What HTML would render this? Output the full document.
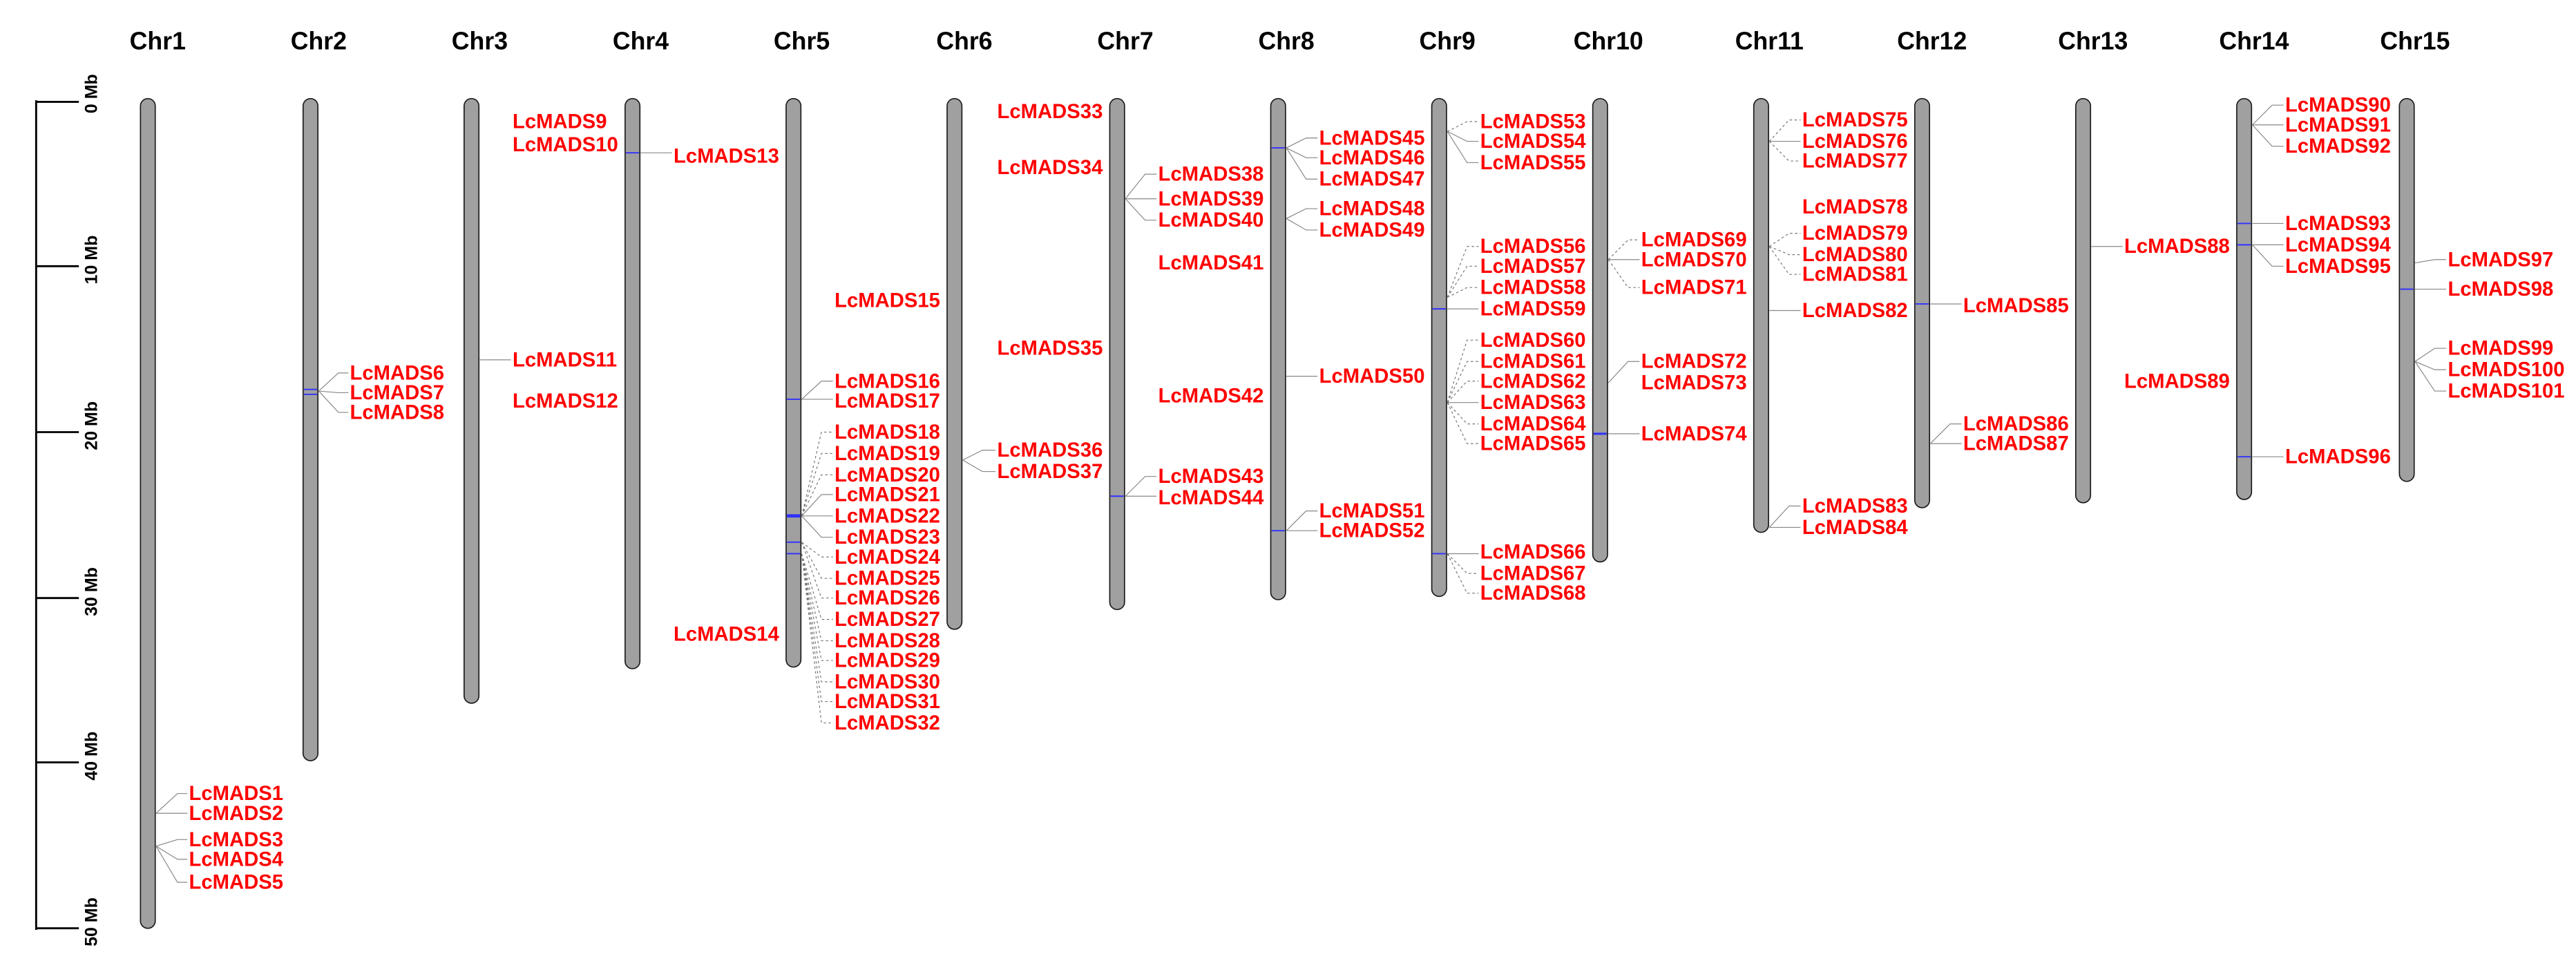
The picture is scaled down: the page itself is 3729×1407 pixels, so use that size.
<!DOCTYPE html>
<html><head><meta charset="utf-8"><style>
html,body{margin:0;padding:0;background:#fff;}
svg{display:block}
.t{font-family:"Liberation Sans",sans-serif;font-weight:bold;font-size:15px;fill:#000}
.l{font-family:"Liberation Sans",sans-serif;font-weight:bold;font-size:12.3px;fill:#ff0000}
.s{font-family:"Liberation Sans",sans-serif;font-weight:bold;font-size:10.5px;fill:#000}
.b{fill:#a0a0a0;stroke:#1a1a1a;stroke-width:0.7}
.c{stroke:#888;stroke-width:0.5;fill:none}
.d{stroke:#777;stroke-width:0.5;fill:none;stroke-dasharray:1.5 1.5}
.m{stroke:#3030ff;stroke-width:0.8}
</style></head><body>
<svg width="3729" height="1407" viewBox="0 0 1568 591.6" preserveAspectRatio="none" xmlns="http://www.w3.org/2000/svg">
<g class="t" text-anchor="middle">
<text x="96" y="30">Chr1</text><text x="194" y="30">Chr2</text><text x="292" y="30">Chr3</text><text x="390" y="30">Chr4</text><text x="488" y="30">Chr5</text><text x="587" y="30">Chr6</text><text x="685" y="30">Chr7</text><text x="783" y="30">Chr8</text><text x="881" y="30">Chr9</text><text x="979" y="30">Chr10</text><text x="1077" y="30">Chr11</text><text x="1176" y="30">Chr12</text><text x="1274" y="30">Chr13</text><text x="1372" y="30">Chr14</text><text x="1470" y="30">Chr15</text>
</g>
<g stroke="#000" stroke-width="1.2">
<line x1="22" y1="61" x2="22" y2="566"/>
<line x1="22" y1="62" x2="48" y2="62"/><line x1="22" y1="162" x2="48" y2="162"/><line x1="22" y1="263" x2="48" y2="263"/><line x1="22" y1="364" x2="48" y2="364"/><line x1="22" y1="464" x2="48" y2="464"/><line x1="22" y1="565" x2="48" y2="565"/>
</g>
<g class="s">
<text transform="translate(59,69) rotate(-90)">0 Mb</text>
<text transform="translate(59,173) rotate(-90)">10 Mb</text>
<text transform="translate(59,274) rotate(-90)">20 Mb</text>
<text transform="translate(59,375) rotate(-90)">30 Mb</text>
<text transform="translate(59,475) rotate(-90)">40 Mb</text>
<text transform="translate(59,576) rotate(-90)">50 Mb</text>
</g>
<g class="b">
<rect x="85.5" y="60" width="9" height="505" rx="4.5"/>
<rect x="184.5" y="60" width="9" height="403" rx="4.5"/>
<rect x="282.5" y="60" width="9" height="368" rx="4.5"/>
<rect x="380.5" y="60" width="9" height="347" rx="4.5"/>
<rect x="478.5" y="60" width="9" height="346" rx="4.5"/>
<rect x="576.5" y="60" width="9" height="323" rx="4.5"/>
<rect x="675.5" y="60" width="9" height="311" rx="4.5"/>
<rect x="773.5" y="60" width="9" height="305" rx="4.5"/>
<rect x="871.5" y="60" width="9" height="303" rx="4.5"/>
<rect x="969.5" y="60" width="9" height="282" rx="4.5"/>
<rect x="1067.5" y="60" width="9" height="264" rx="4.5"/>
<rect x="1165.5" y="60" width="9" height="249" rx="4.5"/>
<rect x="1263.5" y="60" width="9" height="246" rx="4.5"/>
<rect x="1361.5" y="60" width="9" height="244" rx="4.5"/>
<rect x="1460.5" y="60" width="9" height="233" rx="4.5"/>
</g>
<g class="m">
<line x1="185" y1="237" x2="193" y2="237"/><line x1="185" y1="240" x2="193" y2="240"/>
<line x1="381" y1="93" x2="389" y2="93"/>
<line x1="479" y1="243" x2="487" y2="243"/>
<line x1="479" y1="314" x2="487" y2="314" stroke-width="2"/>
<line x1="479" y1="330" x2="487" y2="330"/><line x1="479" y1="337" x2="487" y2="337"/>
<line x1="676" y1="302" x2="684" y2="302"/>
<line x1="774" y1="90" x2="782" y2="90"/><line x1="774" y1="323" x2="782" y2="323"/>
<line x1="872" y1="188" x2="880" y2="188"/><line x1="872" y1="337" x2="880" y2="337"/>
<line x1="970" y1="264" x2="978" y2="264" stroke-width="1.3"/>
<line x1="1166" y1="185" x2="1174" y2="185"/>
<line x1="1362" y1="136" x2="1370" y2="136"/><line x1="1362" y1="149" x2="1370" y2="149"/><line x1="1362" y1="278" x2="1370" y2="278"/>
<line x1="1461" y1="176" x2="1469" y2="176"/>
</g>
<g class="c">
<path d="M95 495 L108 483 H114 M95 495 L108 495 H114 M95 515 L108 511 H114 M95 515 L108 523 H114 M95 515 L108 537 H114"/>
<path d="M194 238 L206 227 H212 M194 238 L206 239 H212 M194 238 L206 251 H212"/>
<path d="M292 219 H311"/>
<path d="M390 93 H409"/>
<path d="M488 243 H507 M488 243 L500 232 H507"/>
<path d="M488 314 L500 301 H507 M488 314 H507 M488 314 L500 327 H507"/>
<path d="M586 280 L598 274 H606 M586 280 L598 287 H606"/>
<path d="M685 121 H704 M685 121 L697 106 H704 M685 121 L697 134 H704"/>
<path d="M685 302 L697 290 H704 M685 302 H704"/>
<path d="M783 90 L795 84 H802 M783 90 L795 96 H802 M783 90 L795 109 H802 M783 133 L795 127 H802 M783 133 L795 140 H802 M783 229 H802 M783 323 L795 311 H802 M783 323 H802"/>
<path d="M881 188 H900 M881 245 H900 M881 337 H900 M881 80 L893 86 H900 M881 80 L893 99 H900"/>
<path d="M979 158 H998 M979 233 L991 220 H998 M979 264 H998"/>
<path d="M1077 86 H1096 M1077 189 H1096 M1077 321 L1089 308 H1096 M1077 321 H1096"/>
<path d="M1175 185 H1194 M1175 270 L1187 258 H1194 M1175 270 H1194"/>
<path d="M1273 150 H1292"/>
<path d="M1371 136 H1390 M1371 149 H1390 M1371 149 L1383 162 H1390 M1371 278 H1390 M1371 76 L1383 64 H1390 M1371 76 H1390 M1371 76 L1383 89 H1390"/>
<path d="M1470 176 H1489 M1470 160 L1482 158 H1489 M1470 220 L1482 212 H1489 M1470 220 L1482 225 H1489 M1470 220 L1482 238 H1489"/>
</g>
<g class="d">
<path d="M488 314 L500 263 H507 M488 314 L500 276 H507 M488 314 L500 289 H507 M488 330 L500 339 H507 M488 330 L500 352 H507 M488 330 L500 364 H507 M488 337 L500 377 H507 M488 337 L500 390 H507 M488 337 L500 402 H507 M488 337 L500 415 H507 M488 337 L500 427 H507 M488 337 L500 440 H507"/>
<path d="M881 80 L893 74 H900 M881 181 L893 150 H900 M881 181 L893 162 H900 M881 181 L893 175 H900 M881 245 L893 207 H900 M881 245 L893 220 H900 M881 245 L893 232 H900 M881 245 L893 258 H900 M881 245 L893 270 H900 M881 337 L893 349 H900 M881 337 L893 361 H900"/>
<path d="M979 158 L991 146 H998 M979 158 L991 175 H998"/>
<path d="M1077 86 L1089 73 H1096 M1077 86 L1089 98 H1096 M1077 150 L1089 142 H1096 M1077 150 L1089 155 H1096 M1077 150 L1089 167 H1096"/>
</g>
<g class="l">
<text x="115" y="487">LcMADS1</text><text x="115" y="499">LcMADS2</text><text x="115" y="515">LcMADS3</text><text x="115" y="527">LcMADS4</text><text x="115" y="541">LcMADS5</text>
<text x="213" y="231">LcMADS6</text><text x="213" y="243">LcMADS7</text><text x="213" y="255">LcMADS8</text>
<text x="312" y="78">LcMADS9</text><text x="312" y="92">LcMADS10</text><text x="312" y="223">LcMADS11</text><text x="312" y="248">LcMADS12</text>
<text x="410" y="99">LcMADS13</text><text x="410" y="390">LcMADS14</text>
<text x="508" y="187">LcMADS15</text><text x="508" y="236">LcMADS16</text><text x="508" y="248">LcMADS17</text>
<text x="508" y="267">LcMADS18</text><text x="508" y="280">LcMADS19</text><text x="508" y="293">LcMADS20</text><text x="508" y="305">LcMADS21</text><text x="508" y="318">LcMADS22</text><text x="508" y="331">LcMADS23</text><text x="508" y="343">LcMADS24</text><text x="508" y="356">LcMADS25</text><text x="508" y="368">LcMADS26</text><text x="508" y="381">LcMADS27</text><text x="508" y="394">LcMADS28</text><text x="508" y="406">LcMADS29</text><text x="508" y="419">LcMADS30</text><text x="508" y="431">LcMADS31</text><text x="508" y="444">LcMADS32</text>
<text x="607" y="72">LcMADS33</text><text x="607" y="106">LcMADS34</text><text x="607" y="216">LcMADS35</text><text x="607" y="278">LcMADS36</text><text x="607" y="291">LcMADS37</text>
<text x="705" y="110">LcMADS38</text><text x="705" y="125">LcMADS39</text><text x="705" y="138">LcMADS40</text><text x="705" y="164">LcMADS41</text><text x="705" y="245">LcMADS42</text><text x="705" y="294">LcMADS43</text><text x="705" y="307">LcMADS44</text>
<text x="803" y="88">LcMADS45</text><text x="803" y="100">LcMADS46</text><text x="803" y="113">LcMADS47</text><text x="803" y="131">LcMADS48</text><text x="803" y="144">LcMADS49</text><text x="803" y="233">LcMADS50</text><text x="803" y="315">LcMADS51</text><text x="803" y="327">LcMADS52</text>
<text x="901" y="78">LcMADS53</text><text x="901" y="90">LcMADS54</text><text x="901" y="103">LcMADS55</text><text x="901" y="154">LcMADS56</text><text x="901" y="166">LcMADS57</text><text x="901" y="179">LcMADS58</text><text x="901" y="192">LcMADS59</text><text x="901" y="211">LcMADS60</text><text x="901" y="224">LcMADS61</text><text x="901" y="236">LcMADS62</text><text x="901" y="249">LcMADS63</text><text x="901" y="262">LcMADS64</text><text x="901" y="274">LcMADS65</text><text x="901" y="340">LcMADS66</text><text x="901" y="353">LcMADS67</text><text x="901" y="365">LcMADS68</text>
<text x="999" y="150">LcMADS69</text><text x="999" y="162">LcMADS70</text><text x="999" y="179">LcMADS71</text><text x="999" y="224">LcMADS72</text><text x="999" y="237">LcMADS73</text><text x="999" y="268">LcMADS74</text>
<text x="1097" y="77">LcMADS75</text><text x="1097" y="90">LcMADS76</text><text x="1097" y="102">LcMADS77</text><text x="1097" y="130">LcMADS78</text><text x="1097" y="146">LcMADS79</text><text x="1097" y="159">LcMADS80</text><text x="1097" y="171">LcMADS81</text><text x="1097" y="193">LcMADS82</text><text x="1097" y="312">LcMADS83</text><text x="1097" y="325">LcMADS84</text>
<text x="1195" y="190">LcMADS85</text><text x="1195" y="262">LcMADS86</text><text x="1195" y="274">LcMADS87</text>
<text x="1293" y="154">LcMADS88</text><text x="1293" y="236">LcMADS89</text>
<text x="1391" y="68">LcMADS90</text><text x="1391" y="80">LcMADS91</text><text x="1391" y="93">LcMADS92</text><text x="1391" y="140">LcMADS93</text><text x="1391" y="153">LcMADS94</text><text x="1391" y="166">LcMADS95</text><text x="1391" y="282">LcMADS96</text>
<text x="1490" y="162">LcMADS97</text><text x="1490" y="180">LcMADS98</text><text x="1490" y="216">LcMADS99</text><text x="1490" y="229">LcMADS100</text><text x="1490" y="242">LcMADS101</text>
</g>
</svg>
</body></html>
